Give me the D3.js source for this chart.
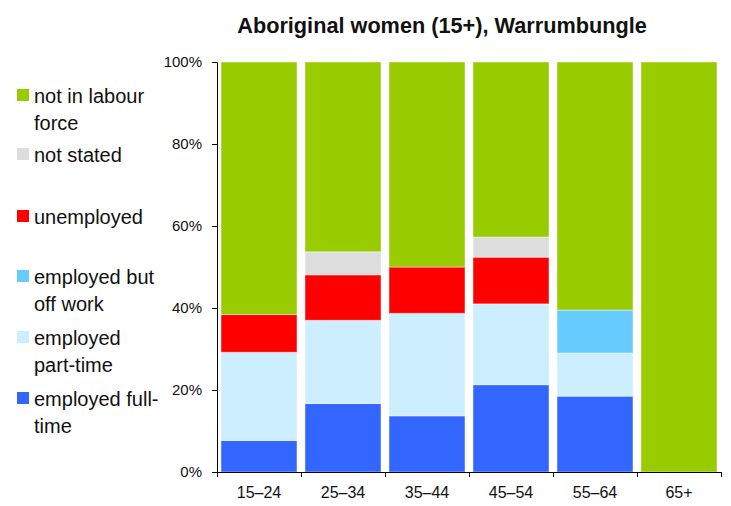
<!DOCTYPE html>
<html>
<head>
<meta charset="utf-8">
<script src="https://cdn.jsdelivr.net/npm/d3@7"></script>
<style>
  body { margin: 0; background: #fff; }
  svg text { font-family: "Liberation Sans", Arial, sans-serif; fill: #111; }
</style>
</head>
<body>
<div id="chart"></div>
<script>
var ageGroups = ['15–24', '25–34', '35–44', '45–54', '55–64', '65+'];
var fullTime   = [7.7, 16.7, 13.7, 21.3, 18.5, 0];
var partTime   = [21.5, 20.3, 25.0, 19.7, 10.5, 0];
var offWork    = [0, 0, 0, 0, 10.5, 0];
var unemployed = [9.2, 11.1, 11.3, 11.4, 0, 0];
var notStated  = [0, 5.6, 0, 4.9, 0, 0];
var notInLF    = [61.6, 46.3, 50.0, 42.7, 60.5, 100];
var yTicks = [0, 20, 40, 60, 80, 100];

var series = [
    {key: 'ft', name: ['employed full-', 'time'], values: fullTime, color: '#3366ff'},
    {key: 'pt', name: ['employed', 'part-time'], values: partTime, color: '#cceeff'},
    {key: 'off', name: ['employed but', 'off work'], values: offWork, color: '#66ccff'},
    {key: 'un', name: ['unemployed'], values: unemployed, color: '#ff0000'},
    {key: 'ns', name: ['not stated'], values: notStated, color: '#dddddd'},
    {key: 'nilf', name: ['not in labour', 'force'], values: notInLF, color: '#99cc00'}
];

var width = 731, height = 506;
var plotLeft = 217, plotRight = 721, plotTop = 62, plotBottom = 472;

var svg = d3.select('#chart').append('svg')
    .attr('width', width)
    .attr('height', height);

var rows = ageGroups.map(function(g, i){
    var r = {group: g};
    series.forEach(function(s){ r[s.key] = s.values[i]; });
    return r;
});
var stacked = d3.stack().keys(series.map(function(s){ return s.key; }))(rows);

var x = d3.scaleBand().domain(ageGroups).range([plotLeft, plotRight])
    .paddingInner(8 / 84).paddingOuter(4 / 84);
var y = d3.scaleLinear().domain([0, 100]).range([plotBottom, plotTop]);

// title
svg.append('text')
    .attr('x', 442).attr('y', 33)
    .attr('text-anchor', 'middle')
    .style('font-size', '21.7px').style('font-weight', 'bold')
    .text('Aboriginal women (15+), Warrumbungle');

// bars
svg.append('g').selectAll('g')
    .data(stacked)
    .join('g')
    .attr('fill', function(d, i){ return series[i].color; })
    .selectAll('rect')
    .data(function(d){ return d.filter(function(p){ return p[1] - p[0] > 0; }); })
    .join('rect')
    .attr('x', function(d){ return x(d.data.group); })
    .attr('y', function(d){ return y(d[1]); })
    .attr('width', x.bandwidth())
    .attr('height', function(d){ return y(d[0]) - y(d[1]); })
    .attr('stroke', 'rgba(255,255,255,0.45)')
    .attr('stroke-width', 1);

// y axis
var yAxis = svg.append('g')
    .attr('transform', 'translate(' + plotLeft + ',0)')
    .call(d3.axisLeft(y).tickValues(yTicks).tickSize(5).tickPadding(10)
        .tickFormat(function(d){ return d + '%'; }));
yAxis.select('.domain').attr('stroke', '#000');
yAxis.selectAll('.tick line').attr('stroke', '#000');
yAxis.selectAll('text').style('font-size', '15px').attr('fill', '#111');

// x axis
var xAxis = svg.append('g')
    .attr('transform', 'translate(0,' + plotBottom + ')')
    .call(d3.axisBottom(x).tickSize(0).tickPadding(15));
xAxis.select('.domain').remove();
xAxis.selectAll('text').style('font-size', '16px').attr('fill', '#111');
svg.append('line')
    .attr('x1', plotLeft).attr('x2', plotRight)
    .attr('y1', plotBottom + 0.5).attr('y2', plotBottom + 0.5)
    .attr('stroke', '#000');
var edges = ageGroups.map(function(g){ return x(g) - x.step() * x.paddingInner() / 2; });
edges[0] = plotLeft;
edges.push(plotRight);
svg.append('g').selectAll('line')
    .data(edges)
    .join('line')
    .attr('x1', function(d){ return d + 0.5; })
    .attr('x2', function(d){ return d + 0.5; })
    .attr('y1', plotBottom).attr('y2', plotBottom + 5)
    .attr('stroke', '#000');

// legend, top item is the last series
var legendCenters = [95, 154, 216, 276, 337, 398];
var legend = svg.append('g').selectAll('g')
    .data(series.slice().reverse())
    .join('g')
    .attr('transform', function(d, i){ return 'translate(17,' + legendCenters[i] + ')'; });
legend.append('rect')
    .attr('x', 0).attr('y', -6)
    .attr('width', 12).attr('height', 12)
    .attr('fill', function(d){ return d.color; });
legend.append('text')
    .attr('x', 17).attr('y', 8)
    .style('font-size', '20px')
    .selectAll('tspan')
    .data(function(d){ return d.name; })
    .join('tspan')
    .attr('x', 17)
    .attr('dy', function(d, i){ return i === 0 ? 0 : 27; })
    .text(function(d){ return d; });
</script>
</body>
</html>
